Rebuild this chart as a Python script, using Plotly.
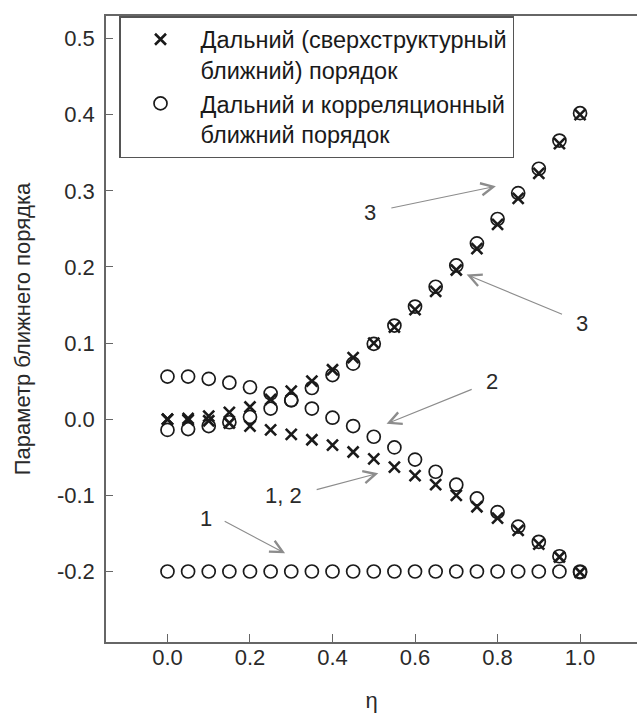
import plotly.graph_objects as go

# ---------------- data ----------------
eta = [0.00, 0.05, 0.10, 0.15, 0.20, 0.25, 0.30, 0.35, 0.40, 0.45, 0.50,
       0.55, 0.60, 0.65, 0.70, 0.75, 0.80, 0.85, 0.90, 0.95, 1.00]

# crosses: long-range (superstructure short-range) order
cross_rise = [0.000, 0.001, 0.004, 0.009, 0.016, 0.026, 0.037, 0.050, 0.065, 0.081, 0.100,
              0.121, 0.144, 0.168, 0.196, 0.224, 0.256, 0.290, 0.323, 0.362, 0.400]
cross_fall = [0.000, -0.001, -0.002, -0.005, -0.009, -0.014, -0.020, -0.027, -0.034, -0.043, -0.052,
              -0.063, -0.074, -0.086, -0.100, -0.115, -0.130, -0.146, -0.164, -0.181, -0.201]

# circles: long-range and correlation short-range order
circ_flat = [-0.200, -0.200, -0.200, -0.200, -0.200, -0.200, -0.200, -0.200, -0.200, -0.200, -0.200,
             -0.200, -0.200, -0.200, -0.200, -0.200, -0.200, -0.200, -0.200, -0.200, -0.200]
circ_fall = [0.056, 0.056, 0.053, 0.048, 0.042, 0.034, 0.025, 0.014, 0.002, -0.009, -0.023,
             -0.037, -0.053, -0.069, -0.086, -0.104, -0.122, -0.141, -0.161, -0.180, -0.201]
circ_rise = [-0.014, -0.013, -0.009, -0.004, 0.003, 0.014, 0.025, 0.041, 0.058, 0.073, 0.099,
             0.123, 0.148, 0.174, 0.202, 0.231, 0.263, 0.297, 0.329, 0.366, 0.402]

x_tick_vals = [0.0, 0.2, 0.4, 0.6, 0.8, 1.0]
x_tick_text = ["0.0", "0.2", "0.4", "0.6", "0.8", "1.0"]
y_tick_vals = [-0.2, -0.1, 0.0, 0.1, 0.2, 0.3, 0.4, 0.5]
y_tick_text = ["-0.2", "-0.1", "0.0", "0.1", "0.2", "0.3", "0.4", "0.5"]

legend_cross = "Дальний (сверхструктурный<br>ближний) порядок"
legend_circle = "Дальний и корреляционный<br>ближний порядок"
x_title = "η"
y_title = "Параметр ближнего порядка"

# label text, label position, arrow tail, arrow tip (data coords)
arrow_labels = [
    ("3", 0.491, 0.272, 0.539, 0.277, 0.796, 0.306),
    ("3", 1.004, 0.126, 0.960, 0.137, 0.725, 0.190),
    ("2", 0.786, 0.049, 0.741, 0.040, 0.531, -0.006),
    ("1, 2", 0.281, -0.100, 0.358, -0.093, 0.511, -0.071),
    ("1", 0.093, -0.130, 0.135, -0.133, 0.285, -0.176),
]

FONT = "Liberation Sans, Arial, sans-serif"
INK = "#1a1a1a"
TXT = "#2a2a2a"

circle_marker = dict(symbol="circle-open", size=13, color=INK, line=dict(width=1.7, color=INK))
cross_marker = dict(symbol="x-thin-open", size=11, color=INK, line=dict(width=2.6, color=INK))

fig = go.Figure()
for i, ys in enumerate([circ_flat, circ_fall, circ_rise]):
    fig.add_trace(go.Scatter(x=eta, y=ys, mode="markers", marker=circle_marker,
                             name=legend_circle, legendgroup="circ",
                             showlegend=(i == 0), legendrank=2, cliponaxis=False))
for i, ys in enumerate([cross_rise, cross_fall]):
    fig.add_trace(go.Scatter(x=eta, y=ys, mode="markers", marker=cross_marker,
                             name=legend_cross, legendgroup="cross",
                             showlegend=(i == 0), legendrank=1, cliponaxis=False))

annotations = []
for txt, lx, ly, tx, ty, hx, hy in arrow_labels:
    annotations.append(dict(x=hx, y=hy, ax=tx, ay=ty, xref="x", yref="y", axref="x", ayref="y",
                            text="", showarrow=True, arrowhead=5, arrowsize=2.2,
                            arrowwidth=1.1, arrowcolor="#8c8c8c", standoff=0, startstandoff=0))
    annotations.append(dict(x=lx, y=ly, xref="x", yref="y", text=txt, showarrow=False,
                            font=dict(family=FONT, size=22, color=TXT)))

fig.update_layout(
    width=637, height=713,
    margin=dict(l=106, r=0, t=16, b=71, autoexpand=False),
    paper_bgcolor="white", plot_bgcolor="white",
    font=dict(family=FONT, size=21, color=TXT),
    showlegend=True,
    legend=dict(x=0.0245, y=1.0, xanchor="left", yanchor="top",
                bordercolor="#555555", borderwidth=1.5, bgcolor="white",
                font=dict(family=FONT, size=23.5, color=INK),
                itemwidth=70, valign="top", tracegroupgap=0),
    annotations=annotations,
)
fig.update_xaxes(range=[-0.149, 1.138], tickvals=x_tick_vals, ticktext=x_tick_text,
                 automargin=False,
                 showgrid=False, zeroline=False, showline=True, linecolor="#666666",
                 linewidth=1.6, mirror=True, ticks="inside", ticklen=8, tickwidth=1.4,
                 tickcolor="#666666", ticklabelstandoff=-5,
                 tickfont=dict(family=FONT, size=22, color=TXT),
                 title=dict(text=x_title, standoff=26, font=dict(family=FONT, size=22, color=TXT)))
fig.update_yaxes(range=[-0.2926, 0.5296], tickvals=y_tick_vals, ticktext=y_tick_text,
                 automargin=False,
                 showgrid=False, zeroline=False, showline=True, linecolor="#666666",
                 linewidth=1.6, mirror=False, ticks="inside", ticklen=7, tickwidth=1.4,
                 tickcolor="#666666", ticklabelstandoff=5,
                 tickfont=dict(family=FONT, size=22, color=TXT),
                 title=dict(text=y_title, standoff=20, font=dict(family=FONT, size=22, color=TXT)))

fig.write_html("out.html", config={"displayModeBar": False},
               post_script="document.body.style.margin='0';")
